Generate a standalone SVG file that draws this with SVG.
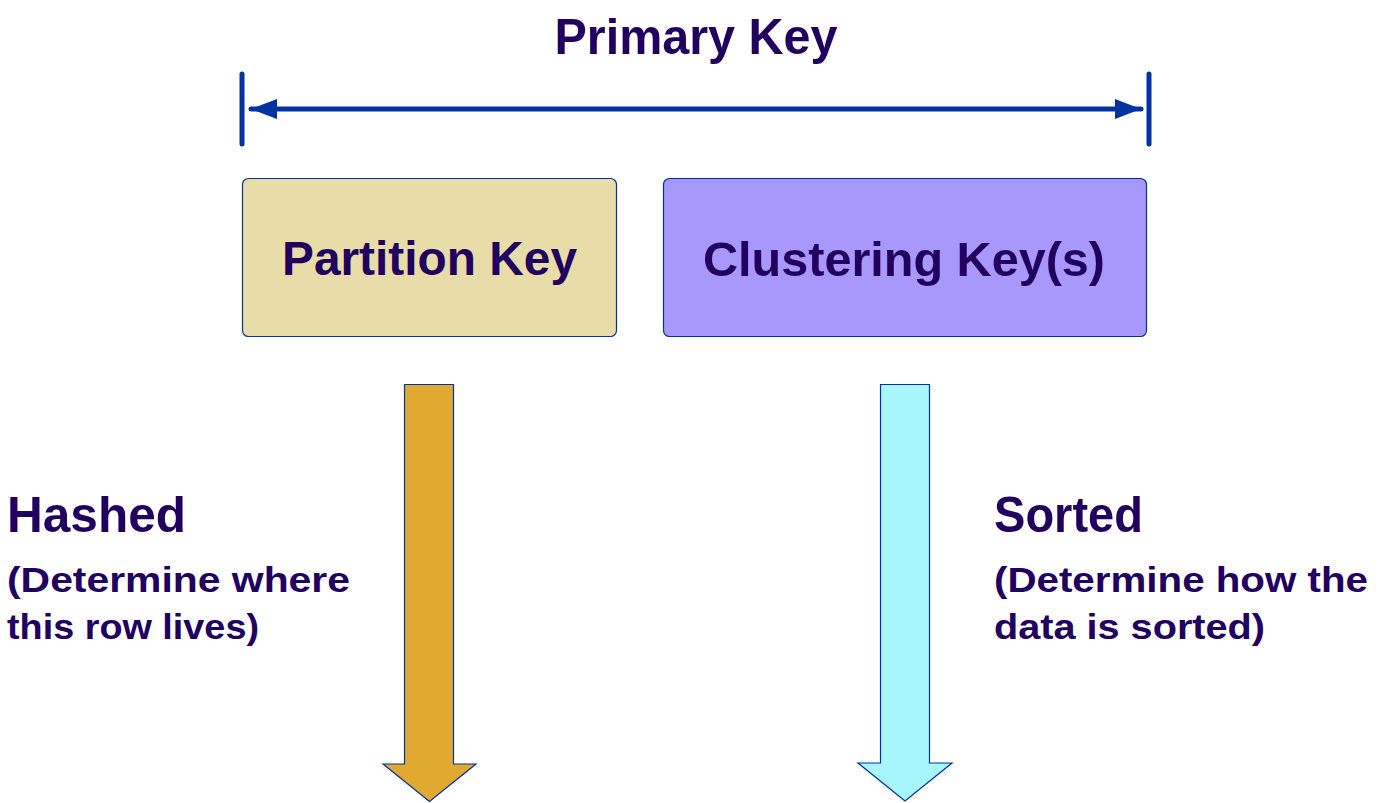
<svg xmlns="http://www.w3.org/2000/svg" width="1391" height="803" viewBox="0 0 1391 803">
<defs>
<style>
.t{font-family:"Liberation Sans",Arial,sans-serif;font-weight:bold;fill:#220060}
.h{font-size:50px}
.s{font-size:35px}
.b{font-size:48px}
.ln{stroke:#0033A0;stroke-width:5;fill:none;stroke-linecap:round}
.box{stroke:#0033A0;stroke-width:1.2}
.arr{stroke:#0033A0;stroke-width:1.2;stroke-linejoin:miter}
</style>
<marker id="ah" viewBox="0 0 26 20" refX="26" refY="10" markerWidth="26" markerHeight="20" markerUnits="userSpaceOnUse" orient="auto-start-reverse">
<path d="M0,0 L26,10 L0,20 Z" fill="#0033A0"/>
</marker>
</defs>
<rect width="1391" height="803" fill="#ffffff"/>
<g id="title">
<text class="t h" x="696" y="54" text-anchor="middle" textLength="283" lengthAdjust="spacingAndGlyphs">Primary Key</text>
</g>
<g id="connectors">
<line class="ln" x1="242" y1="74" x2="242" y2="144"/>
<line class="ln" x1="1149" y1="74" x2="1149" y2="144"/>
<line class="ln" x1="251" y1="109" x2="1141" y2="109" stroke-linecap="butt" marker-start="url(#ah)" marker-end="url(#ah)"/>
</g>
<g id="partition">
<rect class="box" x="242.5" y="178.5" width="374" height="158" rx="6" fill="#E8DCA8"/>
<text class="t b" x="429.5" y="275" text-anchor="middle" textLength="295" lengthAdjust="spacingAndGlyphs">Partition Key</text>
</g>
<g id="clustering">
<rect class="box" x="663.5" y="178.5" width="483" height="158" rx="6" fill="#A898FC"/>
<text class="t b" x="904" y="276" text-anchor="middle" textLength="402" lengthAdjust="spacingAndGlyphs">Clustering Key(s)</text>
</g>
<g id="hashed-arrow">
<path class="arr" d="M404.5,384.5 H453.5 V764 H476 L429.5,801.5 L383,764 H404.5 Z" fill="#E2A930"/>
</g>
<g id="sorted-arrow">
<path class="arr" d="M880.5,384.5 H929.5 V763 H952 L905,801 L858,763 H880.5 Z" fill="#A6F6FC"/>
</g>
<g id="hashed">
<text class="t h" x="7" y="532" textLength="179" lengthAdjust="spacingAndGlyphs">Hashed</text>
<text class="t s" x="7" y="592" textLength="343" lengthAdjust="spacingAndGlyphs">(Determine where</text>
<text class="t s" x="7" y="639" textLength="252" lengthAdjust="spacingAndGlyphs">this row lives)</text>
</g>
<g id="sorted">
<text class="t h" x="994" y="532" textLength="149" lengthAdjust="spacingAndGlyphs">Sorted</text>
<text class="t s" x="994" y="592" textLength="374" lengthAdjust="spacingAndGlyphs">(Determine how the</text>
<text class="t s" x="994" y="639" textLength="271" lengthAdjust="spacingAndGlyphs">data is sorted)</text>
</g>
</svg>
